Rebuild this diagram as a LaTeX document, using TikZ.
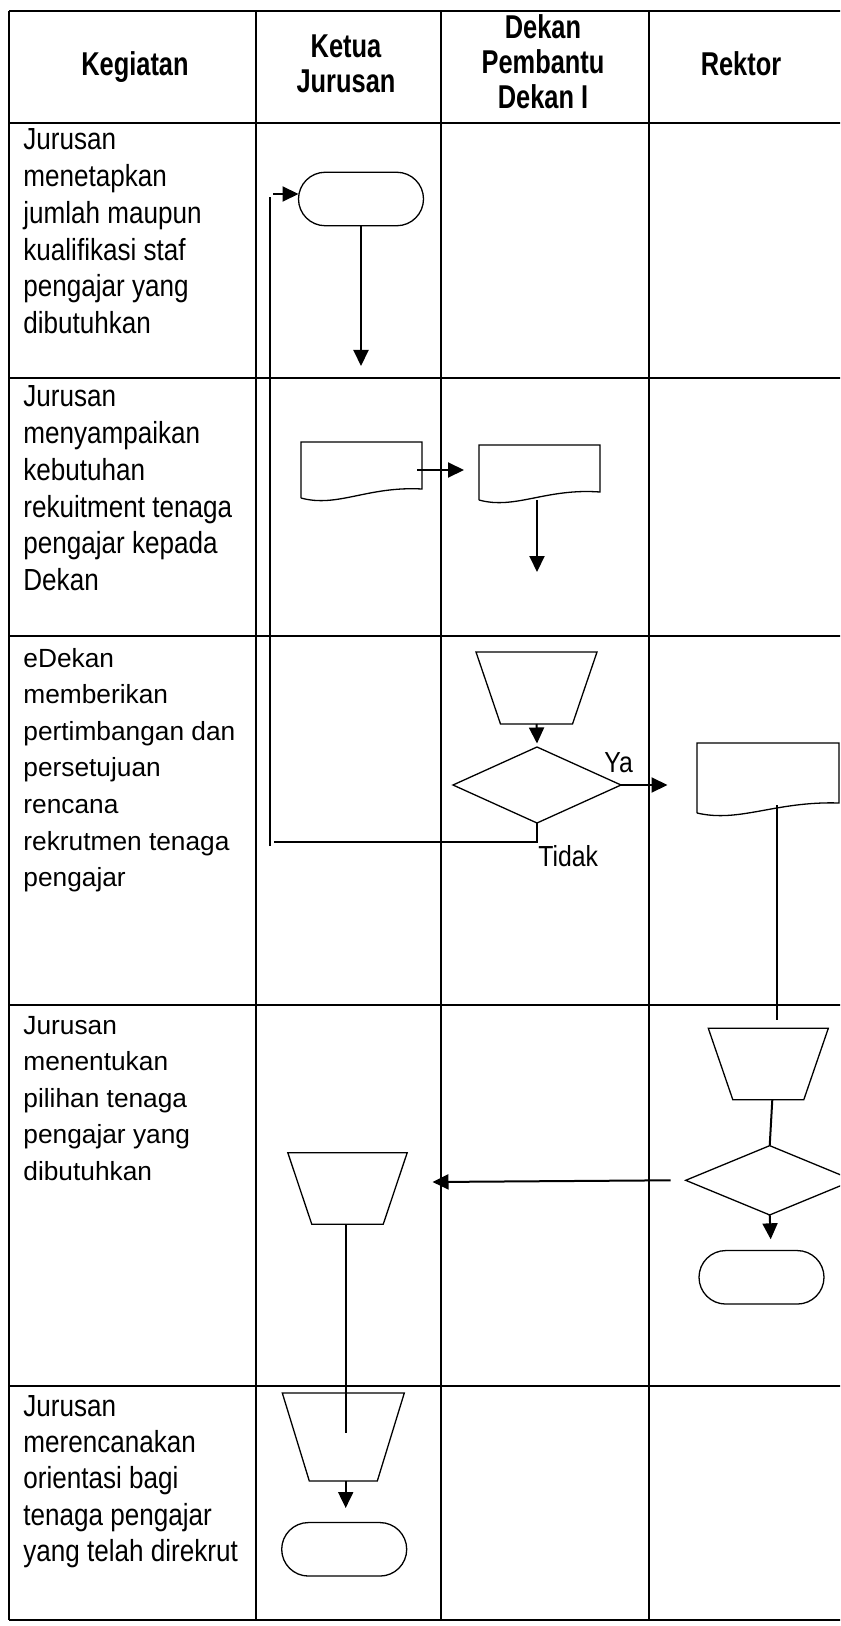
\documentclass[tikz,border=0pt]{standalone}
\usepackage{fontspec}
\setmainfont{Liberation Sans}
\newfontfamily\narfont[FakeStretch=0.855]{Liberation Sans}
\newfontfamily\hdrfont[FakeStretch=0.77]{Liberation Sans}
\usetikzlibrary{arrows.meta,shapes.misc,shapes.geometric,calc}
\newcommand{\drawtrapez}[2]{\draw[shp] (#1.north west) -- (#1.north east) -- ($(#1.south east)+(-#2,0)$) -- ($(#1.south west)+(#2,0)$) -- cycle;}
\newcommand{\drawdocum}[2]{\draw[shp] (#1.south west) -- (#1.north west) -- (#1.north east) -- ($(#1.south east)+(0,-#2)$) .. controls ($(#1.south west)!0.55!(#1.south east)+(0,-12)$) and ($(#1.south west)!0.3!(#1.south east)+(0,10)$) .. (#1.south west);}
\begin{document}
\begin{tikzpicture}[x=0.5pt,y=-0.5pt,
  grid/.style={line width=1.2pt},
  shp/.style={draw, line width=0.65pt, inner sep=0pt, outer sep=0pt},
  ghost/.style={inner sep=0pt, outer sep=0pt},
  term/.style={shp, rounded rectangle, minimum width=62.5pt, minimum height=26.75pt},
  conn/.style={line width=1pt},
  arr/.style={line width=1pt, -{Triangle[length=8pt,width=7.5pt]}},
  txt/.style={inner sep=0pt, anchor=base west, font=\narfont\fontsize{15.25pt}{18pt}\selectfont},
  txtw/.style={inner sep=0pt, anchor=base west, font=\fontsize{13.15pt}{18pt}\selectfont},
  hd/.style={inner sep=0pt, anchor=base, font=\hdrfont\bfseries\fontsize{16.5pt}{18pt}\selectfont},
  lbl/.style={inner sep=0pt, anchor=base west, font=\narfont\fontsize{14.5pt}{14pt}\selectfont}]
\useasboundingbox (0,0) rectangle (840,1626);
\clip (0,0) rectangle (840,1626);
\fill[white] (0,0) rectangle (840,1626);
% table grid
\foreach \yy in {11,123,378,636,1005,1386,1620} \draw[grid] (9,\yy) -- (845,\yy);
\foreach \xx in {9,256,441,649} \draw[grid] (\xx,11) -- (\xx,1620);
% header
\node[hd] (hk) at (135,76) {Kegiatan};
\node[hd] (hj1) at (346,58) {Ketua};
\node[hd] (hj2) at (346,93) {Jurusan};
\node[hd] (hd1) at (543,39) {Dekan};
\node[hd] (hd2) at (543,74) {Pembantu};
\node[hd] (hd3) at (543,109) {Dekan I};
\node[hd] (hr) at (741,76) {Rektor};
% activity texts
\foreach \t [count=\i] in {Jurusan, menetapkan, jumlah maupun, kualifikasi staf, pengajar yang, dibutuhkan}
  \node[txt] (ra\i) at (23,{150+36.7*(\i-1)}) {\t};
\foreach \t [count=\i] in {Jurusan, menyampaikan, kebutuhan, rekuitment tenaga, pengajar kepada, Dekan}
  \node[txt] (rb\i) at (23,{407+36.7*(\i-1)}) {\t};
\foreach \t [count=\i] in {eDekan, memberikan, pertimbangan dan, persetujuan, rencana, rekrutmen tenaga, pengajar}
  \node[txtw] (rc\i) at (23,{667+36.6*(\i-1)}) {\t};
\foreach \t [count=\i] in {Jurusan, menentukan, pilihan tenaga, pengajar yang, dibutuhkan}
  \node[txtw] (rd\i) at (23,{1034+36.6*(\i-1)}) {\t};
\foreach \t [count=\i] in {Jurusan, merencanakan, orientasi bagi, tenaga pengajar, yang telah direkrut}
  \node[txt] (re\i) at (23,{1416+36.4*(\i-1)}) {\t};
% shapes
\node[term] (t1) at (361,199) {};
\node[ghost, minimum width=60.5pt, minimum height=28pt] (doc1) at (361.5,470) {};
\drawdocum{doc1}{9}
\node[ghost, minimum width=60.5pt, minimum height=27.5pt] (doc2) at (539.5,472.5) {};
\drawdocum{doc2}{8}
\node[ghost, minimum width=60.5pt, minimum height=36pt] (m1) at (536.5,688) {};
\drawtrapez{m1}{24.5}
\node[shp, diamond, minimum width=84pt, minimum height=38pt] (d1) at (537,785) {};
\node[ghost, minimum width=71pt, minimum height=35pt] (doc3) at (768,778) {};
\drawdocum{doc3}{10}
\node[ghost, minimum width=60pt, minimum height=35.7pt] (m2) at (768.3,1064) {};
\drawtrapez{m2}{24.5}
\node[shp, diamond, minimum width=84pt, minimum height=34.65pt] (d2) at (769.7,1180.3) {};
\node[term] (t2) at (761.5,1277.3) {};
\node[ghost, minimum width=59.7pt, minimum height=35.8pt] (m3) at (347.5,1188.5) {};
\drawtrapez{m3}{24}
\node[ghost, minimum width=61pt, minimum height=44pt] (m4) at (343.3,1437) {};
\drawtrapez{m4}{27}
\node[term] (t3) at (344.2,1549.3) {};
% free ends
\coordinate (e1) at (361,366);
\coordinate (e2) at (464,470);
\coordinate (e3) at (537,572);
\coordinate (e5) at (667.5,785);
\coordinate (e6) at (274,842);
\coordinate (e7) at (269.5,846);
\coordinate (e8) at (269.5,197);
\coordinate (e9) at (273,194);
\coordinate (e10) at (777,805);
\coordinate (e11) at (777,1020);
\coordinate (e12) at (432.5,1182);
\coordinate (e13) at (770.7,1239.3);
\coordinate (e14) at (346,1433);
\coordinate (e15) at (345.7,1508);
% connectors
\draw[arr] (t1.south) -- (e1);
\draw[arr] ([xshift=-2.5pt]doc1.east) -- (e2);
\draw[arr] (doc2.south -| e3) -- (e3);
\draw[arr] (m1.south) -- ([yshift=1.75pt]d1.north);
\draw[arr] (d1.east) -- (e5);
\node[lbl] (ya) at (604,772) {Ya};
\draw[conn] (d1.south) -- (d1.south |- e6) -- (e6);
\node[lbl] (tidak) at (538,866) {Tidak};
\draw[conn] (e7) -- (e8);
\draw[arr] (e9) -- (t1.west |- e9);
\draw[conn] (e10) -- (e11);
\draw[conn] ([xshift=2pt]m2.south) -- (d2.north);
\draw[arr] ([xshift=-7.5pt]d2.west) -- (e12);
\draw[arr] (d2.south) -- (e13);
\draw[conn] ([xshift=-0.75pt]m3.south) -- (e14);
\draw[arr] ([xshift=1.2pt]m4.south) -- (e15);
\end{tikzpicture}
\end{document}
